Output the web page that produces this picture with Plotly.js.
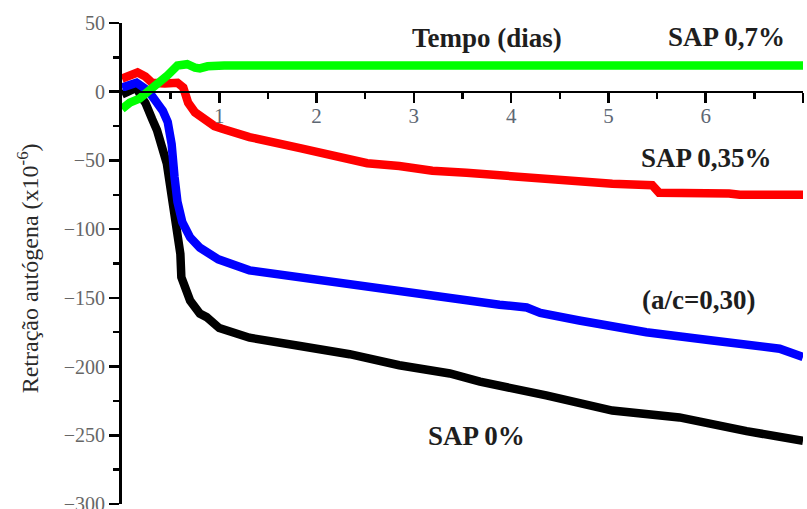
<!DOCTYPE html>
<html>
<head>
<meta charset="utf-8">
<script src="https://cdn.plot.ly/plotly-3.0.1.min.js"></script>
<style>
  html, body { margin: 0; padding: 0; background: #fff; }
  #chart { width: 807px; height: 509px; }
</style>
</head>
<body>
<div id="chart"></div>
<script>
// Autogenous shrinkage (x10^-6) versus age in days, four mixes
const dayTicks = [1, 2, 3, 4, 5, 6, 7];
const dayTickText = ['1', '2', '3', '4', '5', '6', '7'];

const sap0Days = [0, 0.08, 0.15, 0.2, 0.24, 0.31, 0.36, 0.46, 0.52, 0.57, 0.6, 0.61, 0.65, 0.7, 0.8, 0.87, 1.0, 1.31, 1.83, 2.34, 2.85, 3.37, 3.68, 3.88, 4.36, 5.04, 5.73, 6.42, 7.0];
const sap0Strain = [-2, 1, 3, -4, -8, -20, -28, -52, -77, -101, -118, -135, -145, -152, -161.5, -164, -172, -179, -185, -191, -199, -205, -211, -213.5, -221, -232, -237, -247, -254];

const acDays = [0, 0.15, 0.27, 0.37, 0.42, 0.47, 0.51, 0.54, 0.57, 0.62, 0.7, 0.8, 0.87, 0.99, 1.31, 1.83, 2.34, 2.85, 3.37, 3.68, 3.88, 4.16, 4.3, 4.7, 5.39, 6.07, 6.76, 7.0];
const acStrain = [3, 6.5, 0.7, -8, -14, -22, -38, -62, -80, -95, -106, -113.5, -116, -122, -130, -135, -140, -146, -151, -153.5, -155, -157, -161, -166.5, -175, -181, -187, -193];

const sap035Days = [0, 0.08, 0.16, 0.24, 0.31, 0.44, 0.57, 0.63, 0.68, 0.75, 0.85, 0.95, 1.03, 1.31, 1.83, 2.17, 2.52, 2.85, 3.19, 3.54, 3.88, 4.19, 4.7, 5.04, 5.45, 5.52, 6.24, 6.35, 7.0];
const sap035Strain = [9.5, 12.5, 14, 11, 6.5, 6, 6.5, 3, -8, -15, -21, -25, -27, -33, -41, -47, -52, -54, -57.5, -59, -61, -62.5, -65, -67, -68, -73.5, -74, -75, -75];

const sap07Days = [0, 0.08, 0.18, 0.29, 0.37, 0.47, 0.57, 0.67, 0.75, 0.8, 0.88, 1.05, 2, 3, 4, 5, 6, 7];
const sap07Strain = [-12.5, -8, -5, 1, 6, 12, 19, 20, 17.5, 17, 18.5, 19, 19, 19, 19, 19, 19, 19];

const seriesNames = ['SAP 0%', 'a/c=0,30', 'SAP 0,35%', 'SAP 0,7%'];
const seriesColors = ['#000000', '#0000ff', '#ff0000', '#00ff00'];

const labelText = ['Tempo (dias)', 'SAP 0,7%', 'SAP 0,35%', '(a/c=0,30)', 'SAP 0%'];
const labelDay = [3.75, 6.21, 6.01, 5.93, 3.64];
const labelStrain = [39, 40, -48, -151.5, -250.5];

const xs = [sap0Days, acDays, sap035Days, sap07Days];
const ys = [sap0Strain, acStrain, sap035Strain, sap07Strain];

const traces = xs.map((x, i) => ({
  type: 'scatter',
  mode: 'lines',
  x: x,
  y: ys[i],
  name: seriesNames[i],
  line: { color: seriesColors[i], width: 8.5, shape: 'linear' },
  hoverinfo: 'skip'
}));

const serif = 'Liberation Serif, Times New Roman, serif';

const annotations = labelText.map((t, i) => ({
  x: labelDay[i],
  y: labelStrain[i],
  xref: 'x',
  yref: 'y',
  text: '<b>' + t + '</b>',
  showarrow: false,
  xanchor: 'center',
  yanchor: 'middle',
  font: { family: serif, size: 27, color: '#1e1e1e' }
}));

annotations.push({
  x: -0.138,
  y: 0.49,
  xref: 'paper',
  yref: 'paper',
  text: 'Retração autógena (x10<sup>-6</sup>)',
  textangle: -90,
  showarrow: false,
  xanchor: 'center',
  yanchor: 'middle',
  font: { family: serif, size: 24, color: '#2a2a2a' }
});

const layout = {
  width: 807,
  height: 509,
  margin: { l: 122, r: 4, t: 23, b: 5 },
  paper_bgcolor: '#ffffff',
  plot_bgcolor: '#ffffff',
  showlegend: false,
  xaxis: {
    range: [0, 7],
    anchor: 'free',
    position: 300 / 350,
    side: 'bottom',
    showgrid: false,
    zeroline: false,
    showline: true,
    linecolor: '#000',
    linewidth: 2.5,
    tickmode: 'array',
    tickvals: dayTicks,
    ticktext: dayTickText,
    ticks: 'outside',
    ticklen: 10,
    tickwidth: 2.5,
    tickcolor: '#000',
    ticklabelstandoff: -5,
    minor: { tickmode: 'linear', tick0: 0.5, dtick: 1, ticks: 'outside', ticklen: 6, tickwidth: 2.5, tickcolor: '#000' },
    tickfont: { family: serif, size: 21, color: '#5d6773' }
  },
  yaxis: {
    range: [-300, 50],
    showgrid: false,
    zeroline: false,
    showline: true,
    linecolor: '#000',
    linewidth: 3,
    tickmode: 'linear',
    tick0: 0,
    dtick: 50,
    ticks: 'outside',
    ticklen: 10,
    tickwidth: 2.5,
    tickcolor: '#000',
    ticklabeloverflow: 'allow',
    minor: { tickmode: 'linear', tick0: 25, dtick: 50, ticks: 'outside', ticklen: 6, tickwidth: 2.5, tickcolor: '#000' },
    tickfont: { family: serif, size: 20, color: '#666666' }
  },
  annotations: annotations
};

Plotly.newPlot('chart', traces, layout, { displayModeBar: false, staticPlot: true });
</script>
</body>
</html>
